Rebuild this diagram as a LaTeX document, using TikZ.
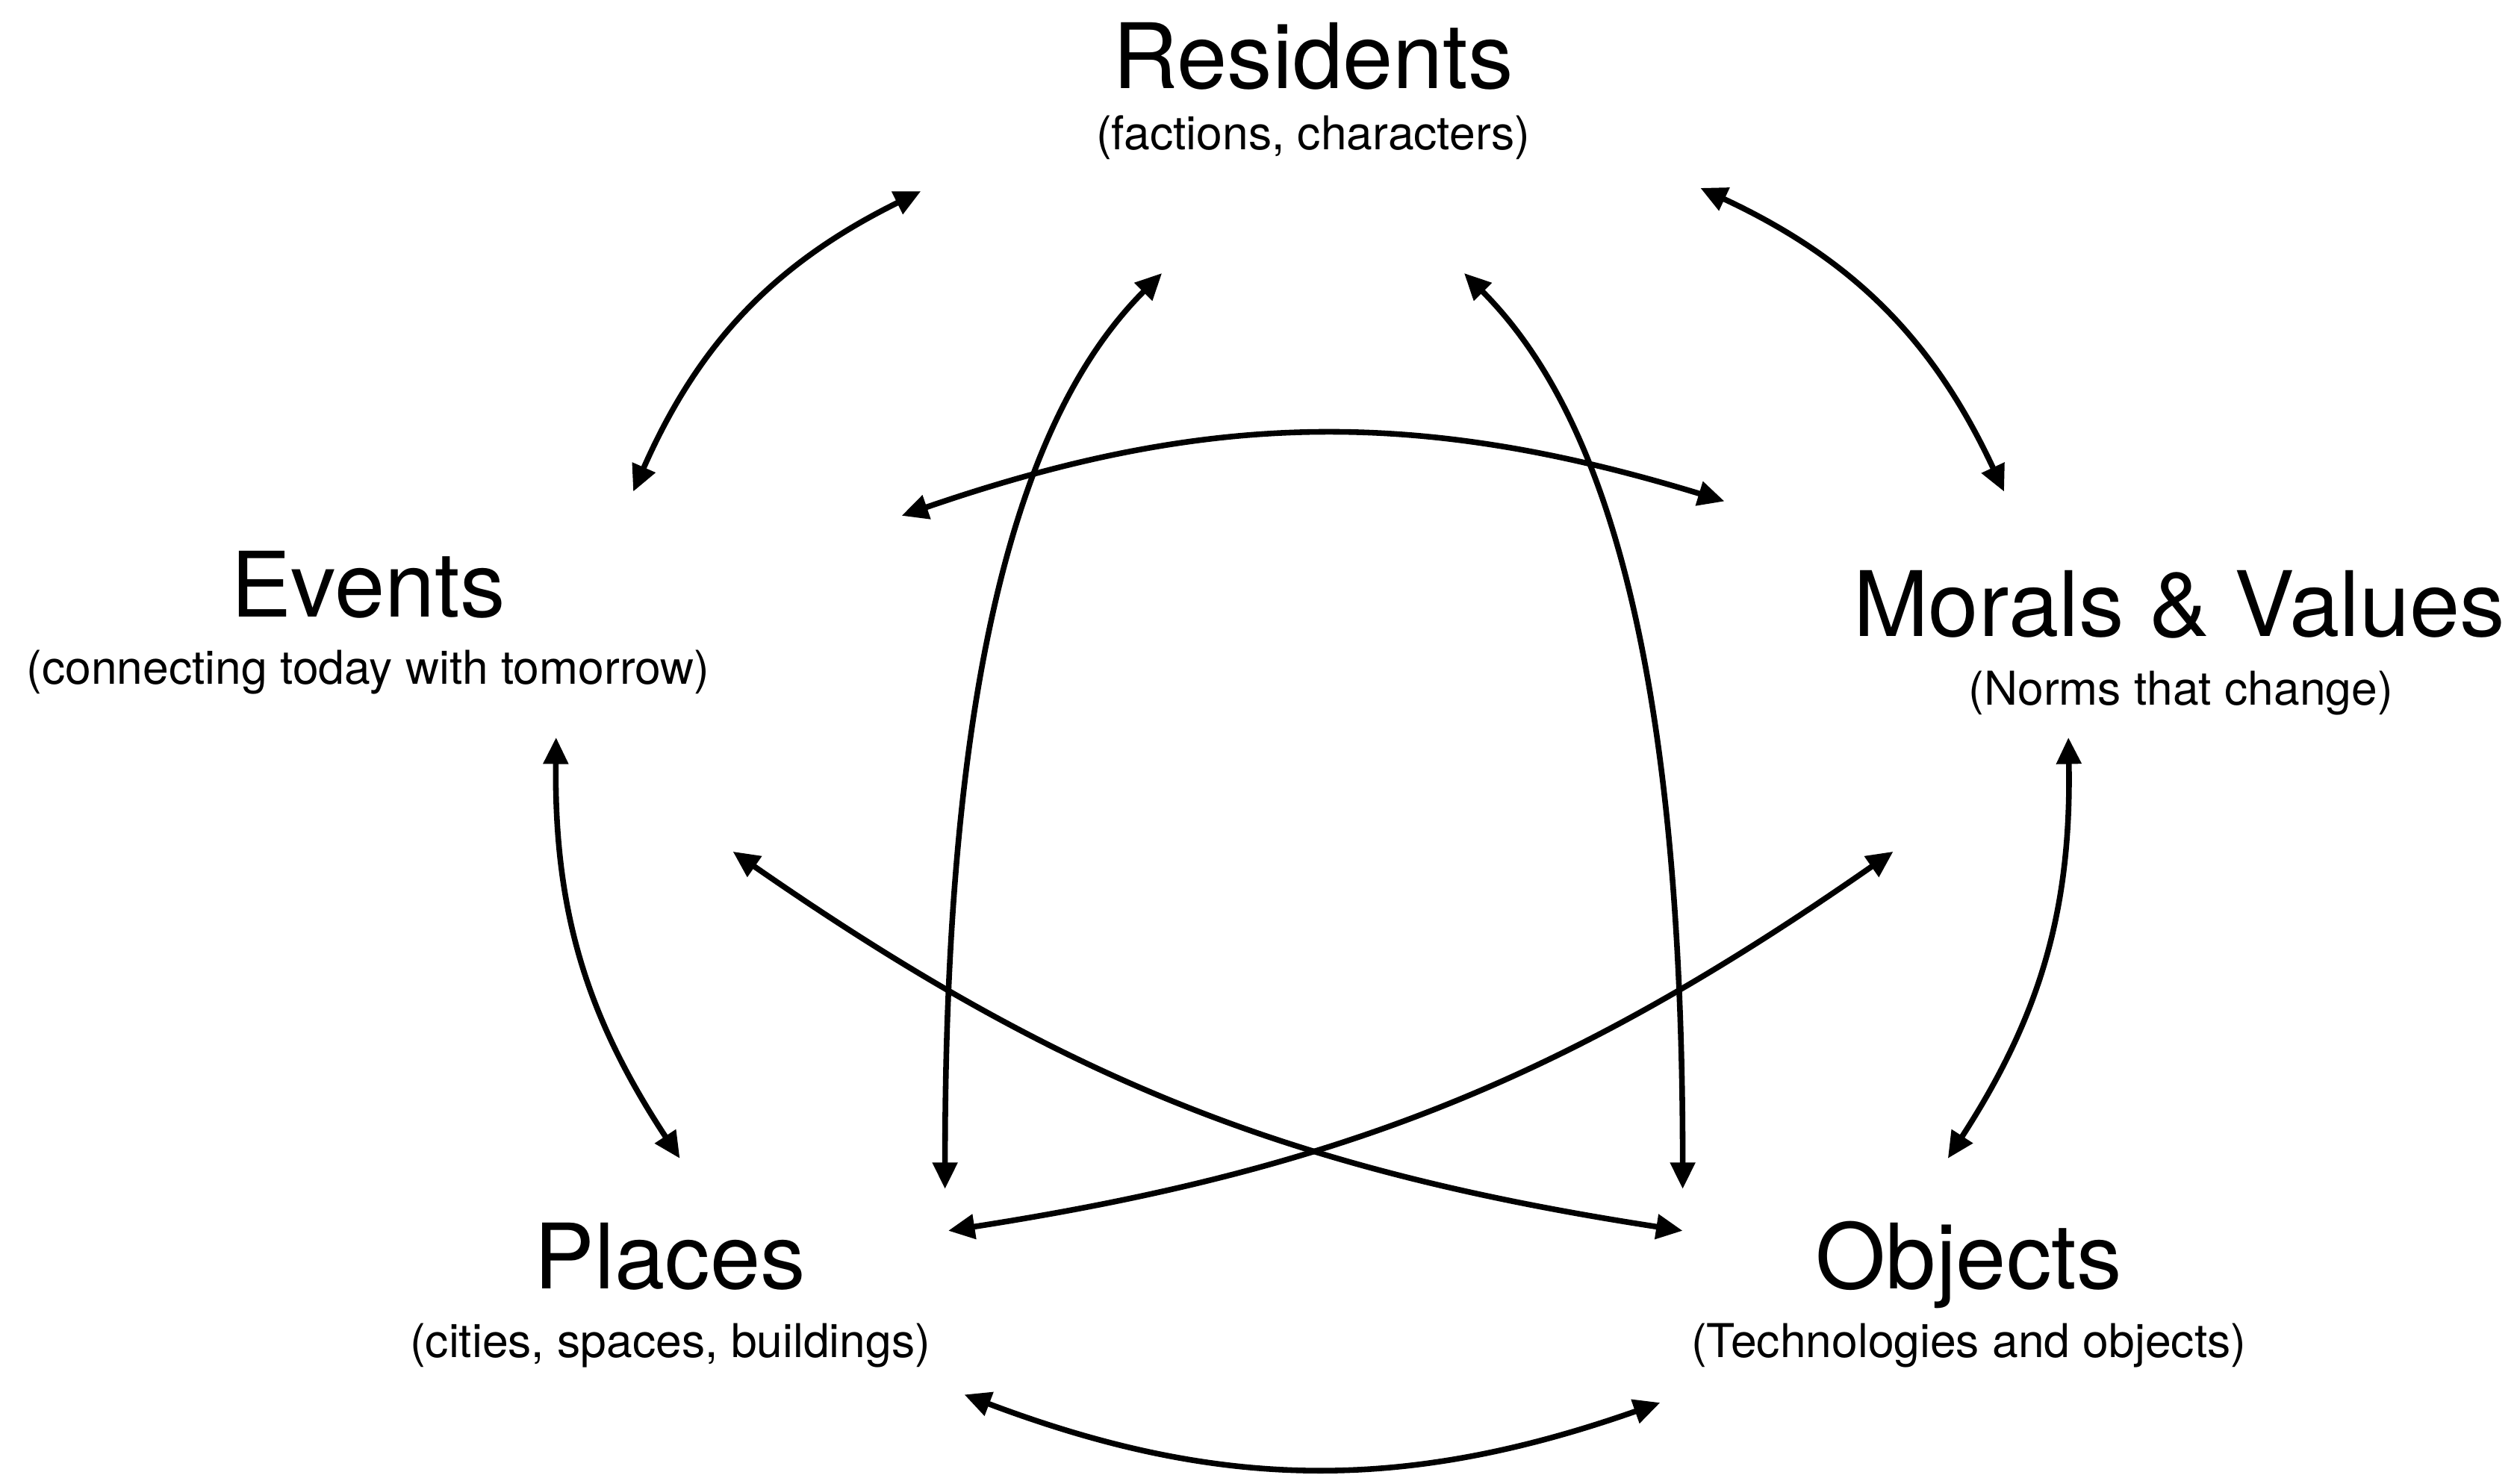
\documentclass[tikz,border=0pt]{standalone}
\usepackage{fontspec}
\setmainfont{TeX Gyre Heros}
\usetikzlibrary{arrows.meta, positioning}

\begin{document}
\begin{tikzpicture}[
    x=0.02cm, y=-0.02cm,
    title/.style={inner sep=0pt, anchor=base, font=\fontsize{32}{38}\selectfont},
    subtitle/.style={inner sep=0pt, anchor=base, font=\fontsize{16.5}{20}\selectfont},
    link/.style={{Triangle[length=0.33cm, width=0.3cm]}-{Triangle[length=0.33cm, width=0.3cm]}, line width=2pt}
]
\useasboundingbox (0,0) rectangle (1568,918);

% Nodes
\node (residents) [title] at (817,55) {Residents};
\node (residentsnote) [subtitle] at (817,93) {(factions, characters)};
\node (events) [title] at (229,384) {Events};
\node (eventsnote) [subtitle] at (229,426) {(connecting today with tomorrow)};
\node (morals) [title] at (1356,396) {Morals \& Values};
\node (moralsnote) [subtitle] at (1357,439) {(Norms that change)};
\node (places) [title] at (417,802) {Places};
\node (placesnote) [subtitle] at (417,845) {(cities, spaces, buildings)};
\node (objects) [title] at (1225,802) {Objects};
\node (objectsnote) [subtitle] at (1225,845) {(Technologies and objects)};

% Arrow ends
\coordinate (res-ev) at (573,119);
\coordinate (res-mo) at (1058,117);
\coordinate (res-pl) at (723,170);
\coordinate (res-ob) at (911,170);
\coordinate (ev-res) at (394,306);
\coordinate (ev-mo) at (561,321);
\coordinate (ev-ob) at (456,530);
\coordinate (ev-pl) at (346,459);
\coordinate (mo-res) at (1247,306);
\coordinate (mo-ev) at (1073,312);
\coordinate (mo-pl) at (1178,530);
\coordinate (mo-ob) at (1287,459);
\coordinate (pl-ev) at (423,721);
\coordinate (pl-res) at (588,740);
\coordinate (pl-mo) at (590,766);
\coordinate (pl-ob) at (600,868);
\coordinate (ob-mo) at (1212,721);
\coordinate (ob-res) at (1047,740);
\coordinate (ob-ev) at (1047,766);
\coordinate (ob-pl) at (1033,873);

% Arrows
\draw [link] (res-ev) to[bend right=20] (ev-res);
\draw [link] (res-mo) to[bend left=20] (mo-res);
\draw [link] (res-pl) to[out=-135, in=90, out looseness=0.5, in looseness=1.5] (pl-res);
\draw [link] (res-ob) to[out=-45, in=90, out looseness=0.5, in looseness=1.5] (ob-res);
\draw [link] (ev-mo) to[bend left=18] (mo-ev);
\draw [link] (ev-pl) to[bend right=17] (pl-ev);
\draw [link] (mo-ob) to[bend left=17] (ob-mo);
\draw [link] (ev-ob) to[bend right=13] (ob-ev);
\draw [link] (mo-pl) to[bend left=13] (pl-mo);
\draw [link] (pl-ob) to[bend right=20] (ob-pl);

\end{tikzpicture}
\end{document}
